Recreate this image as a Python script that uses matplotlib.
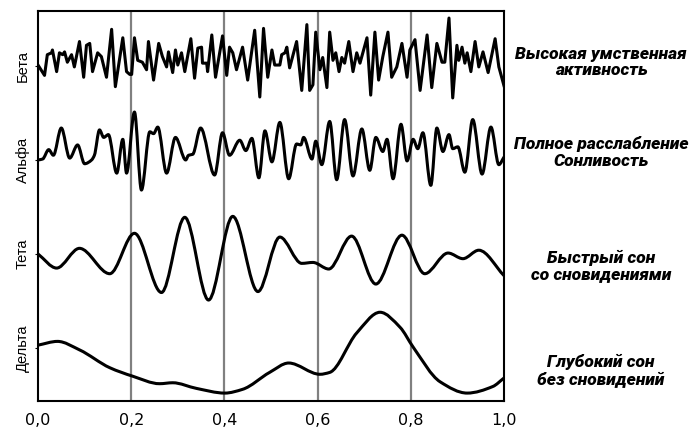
import numpy as np
import matplotlib.pyplot as plt
from matplotlib.path import Path
from matplotlib.patches import PathPatch

# Значения (x в долях 0..1, y - отклонение от средней линии)
beta_x = [0.000, 0.014, 0.020, 0.029, 0.031, 0.040, 0.046, 0.053, 0.057, 0.063,
          0.072, 0.078, 0.089, 0.098, 0.104, 0.111, 0.117, 0.128, 0.136, 0.147,
          0.158, 0.166, 0.182, 0.190, 0.197, 0.201, 0.207, 0.214, 0.224, 0.233,
          0.237, 0.248, 0.259, 0.267, 0.276, 0.280, 0.289, 0.295, 0.300, 0.308,
          0.315, 0.328, 0.336, 0.343, 0.351, 0.353, 0.362, 0.364, 0.373, 0.381,
          0.396, 0.405, 0.411, 0.418, 0.426, 0.439, 0.450, 0.465, 0.476, 0.484,
          0.493, 0.502, 0.508, 0.519, 0.523, 0.530, 0.534, 0.540, 0.555, 0.566,
          0.577, 0.583, 0.590, 0.596, 0.605, 0.611, 0.620, 0.626, 0.633, 0.639,
          0.646, 0.652, 0.658, 0.667, 0.676, 0.684, 0.691, 0.706, 0.714, 0.723,
          0.731, 0.740, 0.751, 0.759, 0.770, 0.781, 0.792, 0.798, 0.809, 0.820,
          0.835, 0.845, 0.856, 0.867, 0.873, 0.882, 0.890, 0.899, 0.903, 0.910,
          0.916, 0.921, 0.929, 0.938, 0.946, 0.955, 0.966, 0.981, 0.989, 1.000]
beta_y = [0.01, -0.10, 0.12, 0.14, 0.17, -0.06, 0.14, 0.12, 0.15, 0.04,
          0.12, -0.01, 0.26, -0.12, 0.22, 0.24, -0.06, 0.14, 0.10, -0.12,
          0.39, -0.22, 0.30, -0.06, -0.09, -0.09, 0.30, 0.06, 0.04, -0.04,
          0.26, -0.15, 0.24, 0.10, -0.01, 0.15, -0.07, 0.17, 0.01, 0.14,
          -0.06, 0.29, -0.13, 0.19, 0.20, 0.03, 0.03, -0.06, 0.33, -0.12,
          0.32, -0.10, 0.20, 0.14, -0.04, 0.20, -0.15, 0.38, -0.33, 0.40,
          -0.12, 0.17, 0.01, 0.01, 0.12, 0.14, 0.20, -0.02, 0.26, -0.26,
          0.44, -0.26, -0.20, 0.36, -0.04, 0.09, -0.23, 0.36, 0.06, 0.14,
          -0.06, 0.09, 0.03, 0.26, -0.06, 0.14, 0.03, 0.30, -0.31, 0.36,
          -0.15, 0.10, 0.36, -0.12, -0.01, 0.24, -0.12, 0.17, 0.28, -0.26,
          0.33, -0.23, 0.24, 0.04, 0.04, 0.51, -0.34, 0.22, 0.06, 0.20,
          0.03, 0.14, -0.06, 0.26, -0.01, 0.15, -0.07, 0.29, -0.01, -0.21]

alpha_x = [0.000, 0.010, 0.023, 0.033, 0.050, 0.068, 0.085, 0.100, 0.115, 0.121,
           0.132, 0.141, 0.151, 0.169, 0.182, 0.190, 0.207, 0.222, 0.240, 0.248,
           0.257, 0.276, 0.295, 0.317, 0.323, 0.332, 0.349, 0.379, 0.396, 0.411,
           0.433, 0.446, 0.459, 0.474, 0.487, 0.502, 0.519, 0.538, 0.555, 0.564,
           0.570, 0.588, 0.596, 0.609, 0.626, 0.641, 0.658, 0.676, 0.695, 0.712,
           0.725, 0.740, 0.749, 0.762, 0.779, 0.792, 0.805, 0.815, 0.826, 0.843,
           0.856, 0.869, 0.882, 0.890, 0.901, 0.916, 0.933, 0.953, 0.972, 0.989,
           1.000]
alpha_y = [0.00, 0.01, 0.11, 0.05, 0.34, 0.02, 0.16, -0.04, 0.00, 0.05,
           0.32, 0.24, 0.27, -0.14, 0.22, -0.14, 0.51, -0.32, 0.30, 0.28,
           0.35, -0.14, 0.24, 0.00, 0.05, 0.06, 0.34, -0.16, 0.29, 0.05,
           0.21, 0.10, 0.23, -0.19, 0.31, -0.02, 0.40, -0.20, 0.17, 0.16,
           0.24, 0.01, 0.20, -0.05, 0.41, -0.21, 0.43, -0.17, 0.33, -0.11,
           0.24, 0.09, 0.22, -0.20, 0.38, -0.01, 0.22, 0.12, 0.29, -0.27,
           0.34, 0.09, 0.27, 0.12, 0.14, -0.13, 0.43, -0.15, 0.35, -0.05,
           0.03]

theta_x = [0.000, 0.040, 0.089, 0.154, 0.207, 0.265, 0.315, 0.366, 0.418, 0.472,
           0.519, 0.566, 0.590, 0.624, 0.673, 0.725, 0.781, 0.830, 0.880, 0.912,
           0.946, 1.000]
theta_y = [0.00, -0.15, 0.06, -0.21, 0.22, -0.41, 0.39, -0.49, 0.40, -0.40,
           0.18, -0.10, -0.09, -0.16, 0.19, -0.32, 0.20, -0.21, 0.01, -0.05,
           0.04, -0.23]

delta_x = [0.000, 0.042, 0.089, 0.154, 0.203, 0.261, 0.289, 0.340, 0.401, 0.439,
           0.497, 0.538, 0.605, 0.626, 0.684, 0.734, 0.777, 0.805, 0.863, 0.921,
           0.976, 1.000]
delta_y = [0.03, 0.07, -0.02, -0.21, -0.30, -0.38, -0.37, -0.43, -0.48, -0.44,
           -0.26, -0.16, -0.28, -0.26, 0.16, 0.38, 0.22, 0.01, -0.36, -0.48,
           -0.41, -0.32]

rhythms = ['Бета', 'Альфа', 'Тета', 'Дельта']
states = ['Высокая умственная\nактивность',
          'Полное расслабление\nСонливость',
          'Быстрый сон\nсо сновидениями',
          'Глубокий сон\nбез сновидений']
xticks = [0.0, 0.2, 0.4, 0.6, 0.8, 1.0]
xtick_labels = ['0,0', '0,2', '0,4', '0,6', '0,8', '1,0']


def smooth_path(x, y):
    # кривая Безье через точки, с нулевым наклоном в экстремумах
    x = np.asarray(x, float)
    y = np.asarray(y, float)
    h = np.diff(x)
    d = np.diff(y) / h
    m = np.zeros_like(y)
    m[0], m[-1] = d[0], d[-1]
    for i in range(1, len(x) - 1):
        if d[i - 1] * d[i] > 0:
            w1 = 2 * h[i] + h[i - 1]
            w2 = h[i] + 2 * h[i - 1]
            m[i] = (w1 + w2) / (w1 / d[i - 1] + w2 / d[i])
    verts = [(x[0], y[0])]
    codes = [Path.MOVETO]
    for i in range(len(x) - 1):
        verts += [(x[i] + h[i] / 3, y[i] + m[i] * h[i] / 3),
                  (x[i + 1] - h[i] / 3, y[i + 1] - m[i + 1] * h[i] / 3),
                  (x[i + 1], y[i + 1])]
        codes += [Path.CURVE4] * 3
    return Path(verts, codes)


fig = plt.figure(figsize=(6.96, 4.36), dpi=100)
ax = fig.add_axes([0.0546, 0.0803, 0.6695, 0.8945])

for xv in xticks[1:-1]:
    ax.axvline(xv, color='#808080', lw=1.6, zorder=1)

ax.plot(beta_x, np.array(beta_y) + 3, color='black', lw=2.2,
        solid_joinstyle='round', zorder=3)
for xs, ys, off in [(alpha_x, alpha_y, 2), (theta_x, theta_y, 1), (delta_x, delta_y, 0)]:
    p = smooth_path(xs, np.array(ys) + off)
    ax.add_patch(PathPatch(p, fill=False, edgecolor='black', lw=2.2,
                           joinstyle='round', capstyle='round', zorder=3))

ax.set_xlim(0, 1)
ax.set_ylim(-0.564, 3.585)
ax.set_xticks(xticks)
ax.set_xticklabels(xtick_labels, fontsize=11.5, family='DejaVu Sans')
ax.tick_params(axis='x', length=0, pad=9)
ax.set_yticks([3, 2, 1, 0])
ax.set_yticklabels(rhythms, rotation=90, va='center', fontsize=10.5,
                   family='Liberation Sans')
ax.tick_params(axis='y', length=2, direction='out', pad=4)
for s in ax.spines.values():
    s.set_linewidth(1.5)

for txt, yc in zip(states, [0.856, 0.650, 0.389, 0.150]):
    fig.text(0.8635, yc, txt, ha='center', va='center', fontsize=12.5,
             family='Roboto', fontweight='black', style='italic',
             linespacing=1.1)

fig.savefig('out.png', dpi=100)
